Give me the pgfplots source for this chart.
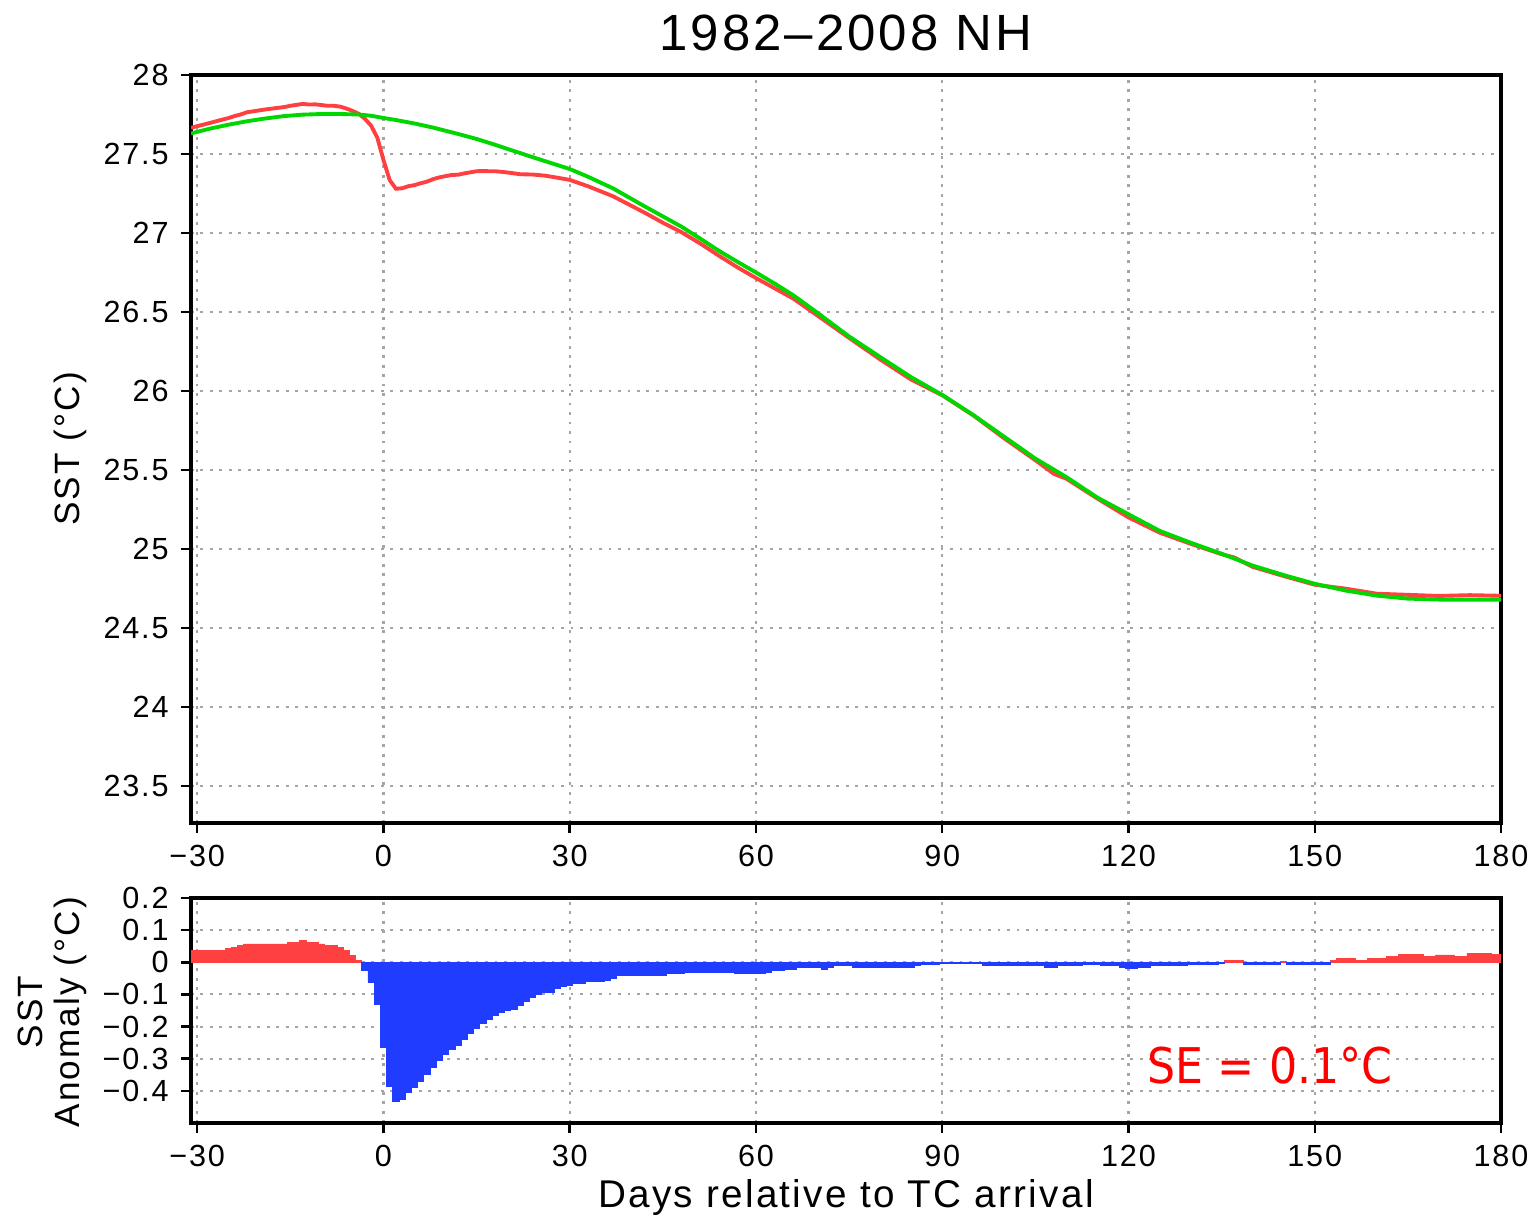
\documentclass[border=0pt]{standalone}
\usepackage{fontspec}
\setmainfont{Liberation Sans}[LetterSpace=6]
\newfontfamily\sefont{DejaVu Sans Condensed}
\usepackage{pgfplots}
\pgfplotsset{compat=1.18}
\definecolor{sstred}{RGB}{255,64,64}
\definecolor{sstgreen}{RGB}{0,215,0}
\definecolor{sstblue}{RGB}{32,60,255}
\definecolor{gridgray}{RGB}{165,165,165}

\pgfplotsset{
  gradsaxis/.style={
    scale only axis, width=13.10cm,
    xmin=-31, xmax=180,
    xtick={-30,0,30,60,90,120,150,180},
    xticklabels={−30,0,30,60,90,120,150,180},
    xtick pos=bottom, ytick pos=left,
    tick align=outside, major tick length=0.1cm,
    axis line style={line width=0.9pt},
    tick style={black, line width=0.7pt},
    grid=major,
    grid style={gridgray, line width=0.6pt, dash pattern=on 0.8pt off 1.9pt},
    ticklabel style={font=\fontsize{8.7}{10}\selectfont},
    label style={font=\fontsize{10}{10.5}\selectfont},
  },
}

\begin{document}
\begin{tikzpicture}
% upper panel: SST composite
\begin{axis}[gradsaxis,
    at={(1.91cm,3.95cm)}, anchor=south west,
    height=7.48cm,
    ymin=23.266, ymax=28,
    ytick={23.5,24,24.5,25,25.5,26,26.5,27,27.5,28},
    yticklabels={23.5,24,24.5,25,25.5,26,26.5,27,27.5,28},
    ylabel={SST (°C)},
    ylabel style={at={(axis description cs:-0.0924,0.5)}, anchor=center},
  ]
  \addplot[sstred, line width=1.1pt] coordinates {
    (-31,27.666) (-28,27.696) (-26,27.717) (-25,27.727) (-24,27.740) (-23,27.750)
    (-22,27.764) (-19,27.782) (-16,27.797) (-15,27.805) (-13,27.817) (-12,27.813)
    (-11,27.814) (-10,27.810) (-9,27.805) (-8,27.805) (-7,27.800) (-6,27.788)
    (-5,27.773) (-4,27.755) (-3,27.723) (-2,27.680) (-1,27.604) (0,27.462)
    (1,27.335) (2,27.280) (3,27.283) (4,27.296) (5,27.303) (6,27.315) (7,27.325)
    (8,27.341) (9,27.352) (10,27.360) (11,27.367) (12,27.369) (13,27.377)
    (14,27.384) (15,27.391) (16,27.392) (17,27.391) (18,27.391) (19,27.387)
    (20,27.383) (22,27.372) (24,27.370) (26,27.363) (28,27.350) (30,27.336)
    (33,27.295) (37,27.232) (42,27.130) (45,27.065) (48,27.005) (51,26.934)
    (54,26.857) (57,26.783) (60,26.715) (63,26.650) (66,26.585) (70,26.475)
    (75,26.336) (80,26.200) (85,26.072) (90,25.973) (95,25.846) (100,25.700)
    (105,25.562) (108,25.475) (110,25.445) (115,25.319) (120,25.200) (125,25.104)
    (130,25.033) (135,24.967) (137,24.947) (140,24.887) (145,24.829) (150,24.774)
    (155,24.749) (160,24.717) (165,24.710) (170,24.703) (175,24.708) (180,24.704)
  };
  \addplot[sstgreen, line width=1.1pt] coordinates {
    (-31,27.630) (-28,27.660) (-25,27.685) (-22,27.707) (-19,27.725) (-16,27.740)
    (-13,27.749) (-10,27.753) (-7,27.753) (-4,27.750) (-2,27.742) (0,27.728)
    (2,27.715) (5,27.693) (8,27.667) (10,27.647) (12,27.627) (15,27.595)
    (18,27.558) (20,27.532) (23,27.493) (26,27.455) (30,27.405) (33,27.355)
    (37,27.282) (42,27.170) (45,27.105) (48,27.040) (51,26.965) (54,26.888)
    (57,26.818) (60,26.750) (63,26.680) (66,26.606) (70,26.492) (75,26.345)
    (80,26.215) (85,26.087) (90,25.975) (95,25.848) (100,25.710) (105,25.572)
    (110,25.455) (115,25.325) (120,25.220) (125,25.115) (130,25.040) (135,24.970)
    (140,24.895) (145,24.835) (150,24.780) (155,24.737) (160,24.705) (165,24.686)
    (170,24.680) (175,24.680) (180,24.680)
  };
\end{axis}

% lower panel: anomaly bars
\begin{axis}[gradsaxis,
    at={(1.91cm,0.95cm)}, anchor=south west,
    height=2.25cm,
    ymin=-0.5, ymax=0.2,
    ytick={-0.4,-0.3,-0.2,-0.1,0,0.1,0.2},
    yticklabels={−0.4,−0.3,−0.2,−0.1,0,0.1,0.2},
    ylabel={SST\\Anomaly (°C)},
    ylabel style={at={(axis description cs:-0.106,0.493)}, anchor=center, align=center},
    xlabel={Days relative to TC arrival},
    xlabel style={at={(axis description cs:0.5,-0.33)}, anchor=center,
      font=\fontsize{11}{12}\selectfont},
  ]
  \addplot[ybar, bar width=1, bar shift=0pt, fill=sstred, draw=sstred, line width=0.2pt]
  coordinates {
    (-31,0.036) (-30,0.036) (-29,0.036) (-28,0.036) (-27,0.036) (-26,0.036)
    (-25,0.042) (-24,0.047) (-23,0.052) (-22,0.057) (-21,0.057) (-20,0.057)
    (-19,0.057) (-18,0.057) (-17,0.057) (-16,0.057) (-15,0.062) (-14,0.062)
    (-13,0.068) (-12,0.062) (-11,0.062) (-10,0.057) (-9,0.052) (-8,0.052)
    (-7,0.047) (-6,0.036) (-5,0.021) (-4,0.005)
    (136,0.007) (137,0.007) (138,0.007) (145,0.002) (153,0.005) (154,0.012)
    (155,0.012) (156,0.012) (157,0.007) (158,0.007) (159,0.012) (160,0.012)
    (161,0.012) (162,0.018) (163,0.018) (164,0.024) (165,0.024) (166,0.024)
    (167,0.024) (168,0.018) (169,0.018) (170,0.023) (171,0.023) (172,0.023)
    (173,0.018) (174,0.018) (175,0.028) (176,0.028) (177,0.028) (178,0.028)
    (179,0.024) (180,0.024)
  };
  \addplot[ybar, bar width=1, bar shift=0pt, fill=sstblue, draw=sstblue, line width=0.2pt]
  coordinates {
    (-3,-0.026) (-2,-0.062) (-1,-0.131) (0,-0.266) (1,-0.385) (2,-0.432)
    (3,-0.427) (4,-0.404) (5,-0.390) (6,-0.370) (7,-0.350) (8,-0.326)
    (9,-0.305) (10,-0.287) (11,-0.270) (12,-0.258) (13,-0.240) (14,-0.222)
    (15,-0.204) (16,-0.190) (17,-0.178) (18,-0.165) (19,-0.156) (20,-0.149)
    (21,-0.145) (22,-0.133) (23,-0.121) (24,-0.110) (25,-0.100) (26,-0.092)
    (27,-0.092) (28,-0.081) (29,-0.076) (30,-0.071) (31,-0.066) (32,-0.066)
    (33,-0.060) (34,-0.060) (35,-0.060) (36,-0.055) (37,-0.050) (38,-0.040)
    (39,-0.040) (40,-0.040) (41,-0.040) (42,-0.040) (43,-0.040) (44,-0.040)
    (45,-0.040) (46,-0.035) (47,-0.035) (48,-0.035) (49,-0.031) (50,-0.031)
    (51,-0.031) (52,-0.031) (53,-0.031) (54,-0.031) (55,-0.031) (56,-0.031)
    (57,-0.035) (58,-0.035) (59,-0.035) (60,-0.035) (61,-0.035) (62,-0.031)
    (63,-0.025) (64,-0.025) (65,-0.021) (66,-0.021) (67,-0.017) (68,-0.017)
    (69,-0.017) (70,-0.017) (71,-0.021) (72,-0.016) (73,-0.009) (74,-0.009)
    (75,-0.009) (76,-0.015) (77,-0.015) (78,-0.015) (79,-0.015) (80,-0.015)
    (81,-0.015) (82,-0.015) (83,-0.015) (84,-0.015) (85,-0.015) (86,-0.010)
    (87,-0.006) (88,-0.006) (89,-0.006) (90,-0.002) (91,-0.002) (92,-0.002)
    (93,-0.002) (94,-0.002) (95,-0.002) (96,-0.002) (97,-0.010) (98,-0.010)
    (99,-0.010) (100,-0.010) (101,-0.010) (102,-0.010) (103,-0.010) (104,-0.010)
    (105,-0.010) (106,-0.010) (107,-0.015) (108,-0.015) (109,-0.010) (110,-0.010)
    (111,-0.010) (112,-0.010) (113,-0.006) (114,-0.006) (115,-0.006) (116,-0.010)
    (117,-0.010) (118,-0.010) (119,-0.015) (120,-0.020) (121,-0.020) (122,-0.015)
    (123,-0.015) (124,-0.011) (125,-0.011) (126,-0.011) (127,-0.011) (128,-0.011)
    (129,-0.011) (130,-0.007) (131,-0.007) (132,-0.007) (133,-0.007) (134,-0.007)
    (135,-0.003) (139,-0.008) (140,-0.008) (141,-0.008) (142,-0.008) (143,-0.008)
    (144,-0.008) (146,-0.006) (147,-0.006) (148,-0.006) (149,-0.006) (150,-0.006)
    (151,-0.006) (152,-0.006)
  };
  \node[anchor=west, inner sep=0pt, text=red, font=\sefont\fontsize{14}{16}\selectfont]
    at (axis cs:123,-0.322) {SE = 0.1°C};
\end{axis}

\node[font=\fontsize{14.5}{16}\selectfont] at (8.46cm,11.85cm) {1982–2008 NH};

\pgfresetboundingbox
\useasboundingbox (0,0) rectangle (15.39cm,12.18cm);
\end{tikzpicture}
\end{document}
